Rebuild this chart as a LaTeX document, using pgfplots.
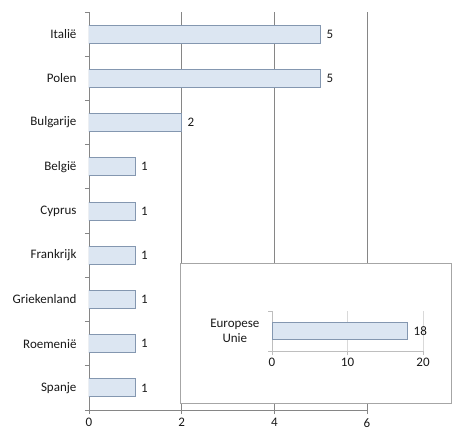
\documentclass[border=0pt]{standalone}
\usepackage{pgfplots}
\pgfplotsset{compat=1.18}
\usepackage{fontspec}
\setmainfont{Carlito}
\definecolor{barfill}{RGB}{220,230,242}
\definecolor{baredge}{RGB}{132,151,176}
\definecolor{gridc}{RGB}{134,134,134}
\definecolor{lgrid}{RGB}{217,217,217}
\definecolor{txt}{RGB}{25,25,25}
\begin{document}
\begin{tikzpicture}
\useasboundingbox (-89pt,-22pt) rectangle (363pt,410pt);
\begin{axis}[
  at={(0pt,0pt)}, anchor=south west,
  scale only axis, width=278pt, height=398pt,
  xbar, bar width=18pt,
  xmin=0, xmax=6, ymin=-0.5, ymax=8.5,
  axis x line=bottom, axis y line=left,
  axis line style={-, draw=gridc, line width=0.8pt},
  xtick={0,2,4,6},
  ytick={0,...,8},
  yticklabels={Spanje,Roemenië,Griekenland,Frankrijk,Cyprus,België,Bulgarije,Polen,Italië},
  minor ytick={-0.5,0.5,...,8.5},
  tick align=outside,
  major tick length=4pt, minor tick length=4pt,
  ytick style={draw=none},
  minor y tick style={draw=gridc, line width=0.8pt},
  xtick style={draw=gridc, line width=0.8pt},
  xmajorgrids,
  major grid style={draw=gridc, line width=0.8pt},
  /pgf/number format/assume math mode=true,
  ticklabel style={font=\fontsize{13}{15}\selectfont, text=txt},
  yticklabel style={xshift=-5pt},
  xticklabel style={yshift=-1pt},
  nodes near coords,
  every node near coord/.append style={font=\fontsize{13}{15}\selectfont, text=txt, xshift=2pt},
]
\addplot[fill=barfill, draw=baredge, line width=1pt] coordinates {
 (1,0) (1,1) (1,2) (1,3) (1,4) (1,5) (2,6) (5,7) (5,8)};
\end{axis}
\draw[draw=gray!70, fill=white, line width=0.6pt] (91pt,7pt) rectangle (362pt,147pt);
\begin{axis}[
  at={(183pt,59pt)}, anchor=south west,
  scale only axis, width=151pt, height=40pt,
  xbar, bar width=17pt,
  xmin=0, xmax=20, ymin=-0.5, ymax=0.5,
  axis x line=bottom, axis y line=left,
  axis line style={-, draw=lgrid!70!gray, line width=0.8pt},
  xtick={0,10,20},
  ytick={0},
  yticklabels={Europese\\Unie},
  minor ytick={-0.5,0.5},
  tick align=outside,
  major tick length=4pt, minor tick length=4pt,
  ytick style={draw=none},
  minor y tick style={draw=lgrid!70!gray, line width=0.8pt},
  xtick style={draw=lgrid!70!gray, line width=0.8pt},
  xmajorgrids,
  major grid style={draw=lgrid, line width=0.8pt},
  /pgf/number format/assume math mode=true,
  ticklabel style={font=\fontsize{13}{15}\selectfont, text=txt},
  yticklabel style={xshift=-5pt, align=center},
  nodes near coords,
  every node near coord/.append style={font=\fontsize{13}{15}\selectfont, text=txt, xshift=2pt},
]
\addplot[fill=barfill, draw=baredge, line width=1pt] coordinates {(18,0)};
\end{axis}
\end{tikzpicture}
\end{document}
